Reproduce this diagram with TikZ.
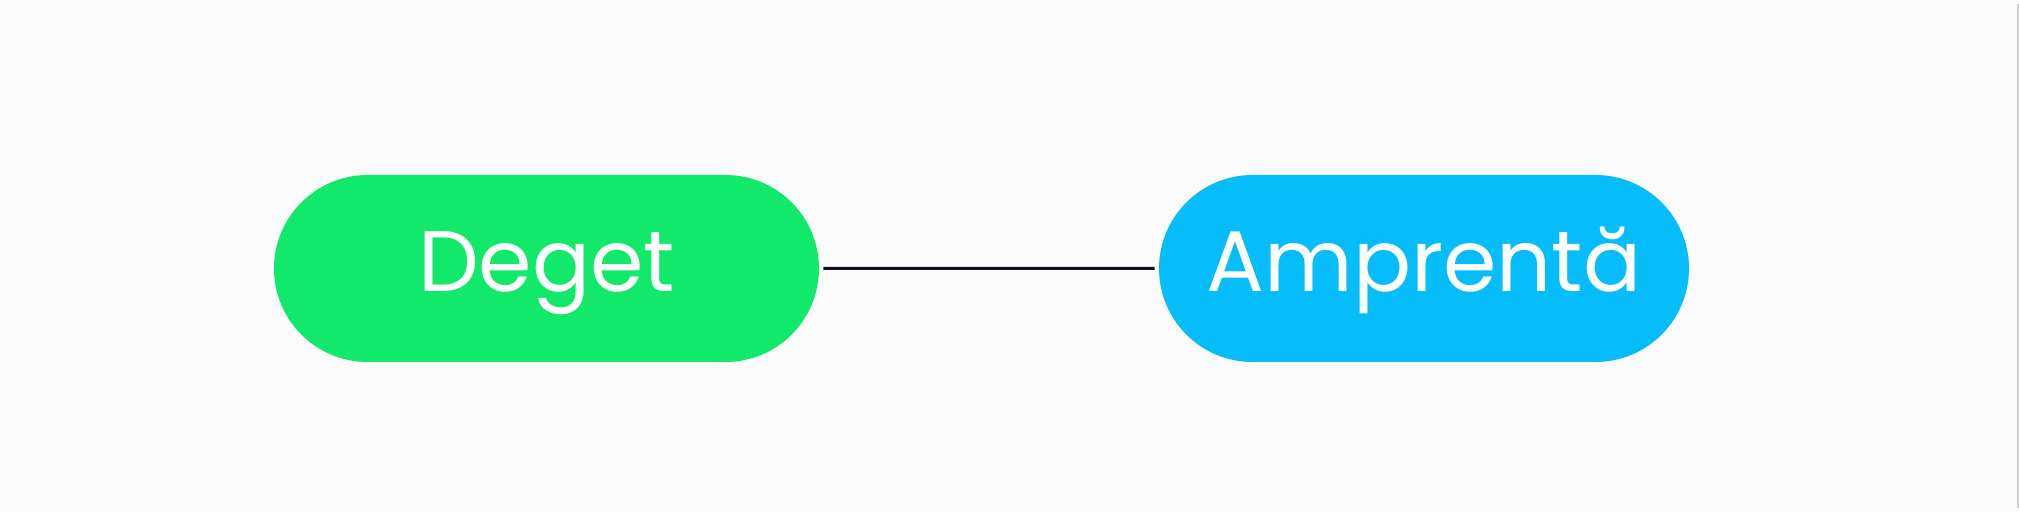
\documentclass[tikz,border=0pt]{standalone}
\usepackage{fontspec}
\setmainfont{Poppins}
\usepackage{tikz}
\usetikzlibrary{arrows, positioning, shapes.misc}
\usepackage{xcolor}
\definecolor{degetgreen}{HTML}{12E86A}
\definecolor{amprentablue}{HTML}{06BDF9}
\definecolor{linknavy}{HTML}{0F1226}
\definecolor{framegray}{HTML}{CFCFCF}

\begin{document}
\begin{tikzpicture}[shorten >=2pt,shorten <=2pt,node distance=438.75pt,on grid]
    \tikzstyle{pill}=[shape=rounded rectangle,minimum height=93.5pt,inner sep=0pt,
        text=white,text height=23pt,text depth=0pt,font=\fontsize{43pt}{50pt}\selectfont]
    \tikzstyle{link}=[draw=linknavy,line width=1.5pt]

    \useasboundingbox[fill=white!99!black] (0,0) rectangle (1009.5pt,256pt);
    \draw[framegray, line width=1pt] (1009pt,0) -- (1009pt,256pt);

    \node[pill, fill=degetgreen, minimum width=272.5pt] (deget) at (273.25pt,121.75pt) {Deget};
    \node[pill, fill=amprentablue, minimum width=265pt, right=of deget] (amprenta) {Amprentă};

    \path[link]
    (deget) edge node {} (amprenta)
	;

  \end{tikzpicture}
\end{document}
